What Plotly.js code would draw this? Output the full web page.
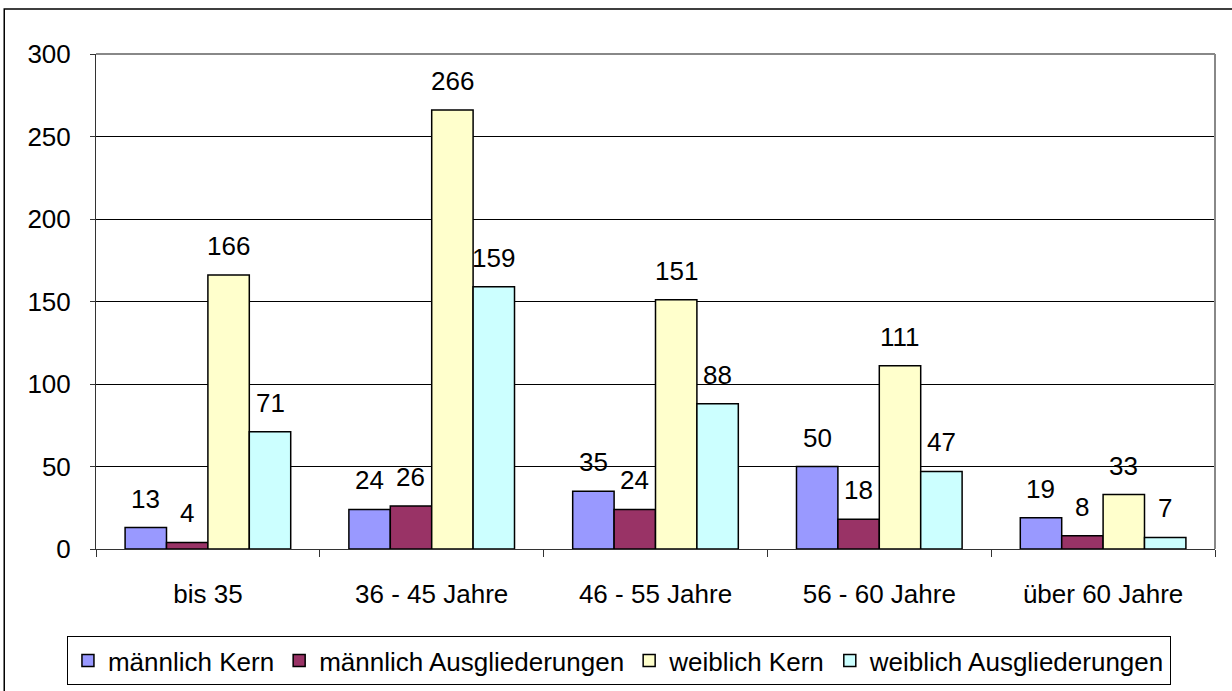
<!DOCTYPE html>
<html>
<head>
<meta charset="utf-8">
<script src="https://cdn.plot.ly/plotly-3.0.1.min.js"></script>
<style>
  html, body { margin: 0; padding: 0; background: #fff; }
  #chart { width: 1232px; height: 691px; }
</style>
</head>
<body>
<div id="chart"></div>
<script>
// categories and series
const categories = ['bis 35', '36 - 45 Jahre', '46 - 55 Jahre', '56 - 60 Jahre', 'über 60 Jahre'];
const seriesNames = ['männlich Kern', 'männlich Ausgliederungen', 'weiblich Kern', 'weiblich Ausgliederungen'];
const maleCore = [13, 24, 35, 50, 19];
const maleOut = [4, 26, 24, 18, 8];
const femaleCore = [166, 266, 151, 111, 33];
const femaleOut = [71, 159, 88, 47, 7];
const yTicks = [0, 50, 100, 150, 200, 250, 300];

const colors = ['#9999FF', '#993366', '#FFFFCC', '#CCFFFF'];
const allValues = [maleCore, maleOut, femaleCore, femaleOut];
const font = 'Liberation Sans, Arial, sans-serif';
const fs = 26;

const traces = allValues.map((vals, i) => ({
    type: 'bar',
    name: seriesNames[i],
    x: categories,
    y: vals,
    marker: { color: colors[i], line: { color: '#000', width: 1.5 } },
    hoverinfo: 'x+y+name'
}));

// value labels above the bars
const barW = 41.5;
const annotations = [];
allValues.forEach((vals, i) => {
    vals.forEach((v, j) => {
        annotations.push({
            x: categories[j], y: v, xref: 'x', yref: 'y',
            text: String(v), showarrow: false,
            xshift: (i - 1.5) * barW, yshift: 29,
            yanchor: 'middle',
            font: { family: font, size: fs, color: '#000' }
        });
    });
});

const layout = {
    width: 1232,
    height: 691,
    margin: { l: 96, r: 17, t: 54, b: 142 },
    paper_bgcolor: '#fff',
    plot_bgcolor: '#fff',
    font: { family: font, size: fs, color: '#000' },
    barmode: 'group',
    bargap: 0.26,
    bargroupgap: 0,
    showlegend: true,
    legend: {
        orientation: 'h',
        xref: 'container', yref: 'container',
        x: 0.5024, xanchor: 'center',
        y: 0.0796, yanchor: 'top',
        bordercolor: '#000', borderwidth: 1,
        bgcolor: '#fff',
        font: { family: font, size: fs, color: '#000' },
        itemwidth: 30,
        traceorder: 'normal'
    },
    xaxis: {
        type: 'category',
        automargin: false,
        tickson: 'boundaries',
        ticks: 'outside', ticklen: 7, tickcolor: '#333',
        showline: true, linecolor: '#333', linewidth: 1,
        showgrid: false,
        ticklabelstandoff: 22,
        tickfont: { family: font, size: fs }
    },
    yaxis: {
        range: [0, 300],
        automargin: false,
        tickvals: yTicks,
        ticks: 'outside', ticklen: 5, tickcolor: '#333',
        showline: true, linecolor: '#333', linewidth: 1,
        showgrid: true, gridcolor: '#000', gridwidth: 1,
        zeroline: true, zerolinecolor: '#000', zerolinewidth: 1,
        ticklabelstandoff: 14,
        tickfont: { family: font, size: fs }
    },
    shapes: [
        // grey plot border top and right
        { type: 'line', xref: 'paper', yref: 'paper', x0: 0, x1: 1, y0: 1, y1: 1, line: { color: '#888', width: 2 } },
        { type: 'line', xref: 'paper', yref: 'paper', x0: 1, x1: 1, y0: 0, y1: 1, line: { color: '#888', width: 2 } },
        // outer chart frame
        { type: 'rect', xref: 'paper', yref: 'paper', x0: -0.082, x1: 1.2, y0: -0.5, y1: 1.091, line: { color: '#000', width: 1.5 }, layer: 'below' }
    ],
    annotations: annotations
};

Plotly.newPlot('chart', traces, layout, { displayModeBar: false, staticPlot: true });
</script>
</body>
</html>
